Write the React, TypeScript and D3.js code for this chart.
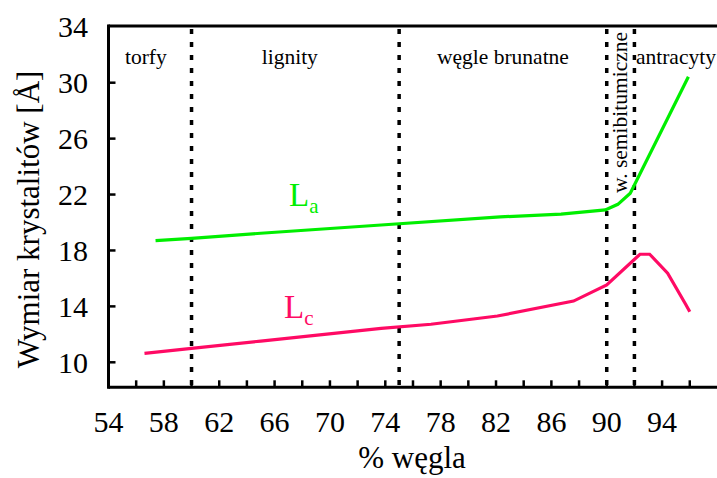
import React from "react";
import * as d3 from "d3";

const xTickLabels = [54, 58, 62, 66, 70, 74, 78, 82, 86, 90, 94];
const xMinorTicks = [56, 58, 60, 62, 64, 66, 68, 70, 72, 74, 76, 78, 80, 82, 84, 86, 88, 90, 92, 94, 96];
const yTickLabels = [10, 14, 18, 22, 26, 30, 34];
const yTicks = [10, 14, 18, 22, 26, 30];

const laX = [57.4, 60, 65, 73.7, 82.3, 86.7, 89.9, 90.8, 91.7, 95.9];
const laY = [18.7, 18.87, 19.23, 19.82, 20.4, 20.6, 20.9, 21.3, 22.1, 30.43];

const lcX = [56.6, 60, 65, 73.7, 77.3, 82.1, 87.6, 90.0, 92.4, 93.1, 94.4, 95.7, 96.0];
const lcY = [10.64, 11.0, 11.52, 12.43, 12.72, 13.31, 14.38, 15.53, 17.73, 17.73, 16.37, 14.15, 13.62];

const boundaries = [60, 75, 90, 92];
const regionNames = ["torfy", "lignity", "węgle brunatne", "antracyty"];
const regionCenters = [56.7, 67.1, 82.5, 95.0];
const verticalRegion = "w. semibitumiczne";

const W = 717;
const H = 478;
const FONT = "'Liberation Serif', 'Times New Roman', serif";

export default function App() {
  const x = d3.scaleLinear().domain([54, 98]).range([108.5, 108.5 + 44 * 13.84]);
  const y = d3.scaleLinear().domain([10, 30]).range([362.3, 82.7]);
  const top = 26;
  const bottom = 387.3;
  const left = 108.5;

  const line = d3
    .line<[number, number]>()
    .x((d) => x(d[0]))
    .y((d) => y(d[1]));
  const la = line(laX.map((v, i) => [v, laY[i]] as [number, number])) || "";
  const lc = line(lcX.map((v, i) => [v, lcY[i]] as [number, number])) || "";

  const green = "#00ee00";
  const pink = "#ff0a64";

  return (
    <svg
      width={W}
      height={H}
      style={{ position: "absolute", left: 0, top: 0, background: "#fff" }}
      fontFamily={FONT}
    >
      <rect x={0} y={0} width={W} height={H} fill="#fff" />
      {boundaries.map((b) => (
        <line
          key={b}
          x1={x(b)}
          x2={x(b)}
          y1={top + 3}
          y2={bottom}
          stroke="#000"
          strokeWidth={3.5}
          strokeDasharray="5,8"
        />
      ))}
      <line x1={left} x2={W} y1={top} y2={top} stroke="#000" strokeWidth={3} />
      <line x1={left} x2={W} y1={bottom} y2={bottom} stroke="#000" strokeWidth={3} />
      <line x1={left} x2={left} y1={top - 1.5} y2={bottom + 1.5} stroke="#000" strokeWidth={3} />
      {yTicks.map((t) => (
        <line key={t} x1={left} x2={left + 7} y1={y(t)} y2={y(t)} stroke="#000" strokeWidth={2.5} />
      ))}
      {xMinorTicks.map((t) => (
        <line key={t} x1={x(t)} x2={x(t)} y1={bottom} y2={bottom - 7} stroke="#000" strokeWidth={2.5} />
      ))}
      {yTickLabels.map((t) => (
        <text key={t} x={88} y={y(t)} dy="0.35em" textAnchor="end" fontSize={30} fill="#000">
          {t}
        </text>
      ))}
      {xTickLabels.map((t) => (
        <text key={t} x={x(t)} y={431.7} textAnchor="middle" fontSize={30} fill="#000">
          {t}
        </text>
      ))}
      <text x={412} y={468} textAnchor="middle" fontSize={31} fill="#000">
        % węgla
      </text>
      <text transform={`translate(39,219.5) rotate(-90)`} textAnchor="middle" fontSize={31} fill="#000">
        Wymiar krystalitów [Å]
      </text>
      {regionNames.map((n, i) => (
        <text key={n} x={x(regionCenters[i])} y={64} textAnchor="middle" fontSize={21.5} fill="#000">
          {n}
        </text>
      ))}
      <text transform={`translate(627,112.5) rotate(-90)`} textAnchor="middle" fontSize={21.5} fill="#000">
        {verticalRegion}
      </text>
      <path d={la} fill="none" stroke={green} strokeWidth={3.2} />
      <path d={lc} fill="none" stroke={pink} strokeWidth={3.2} />
      <text x={289} y={206} fontSize={33} fill={green}>
        L<tspan fontSize={21} dy={7}>a</tspan>
      </text>
      <text x={284} y={318} fontSize={33} fill={pink}>
        L<tspan fontSize={21} dy={7}>c</tspan>
      </text>
    </svg>
  );
}
